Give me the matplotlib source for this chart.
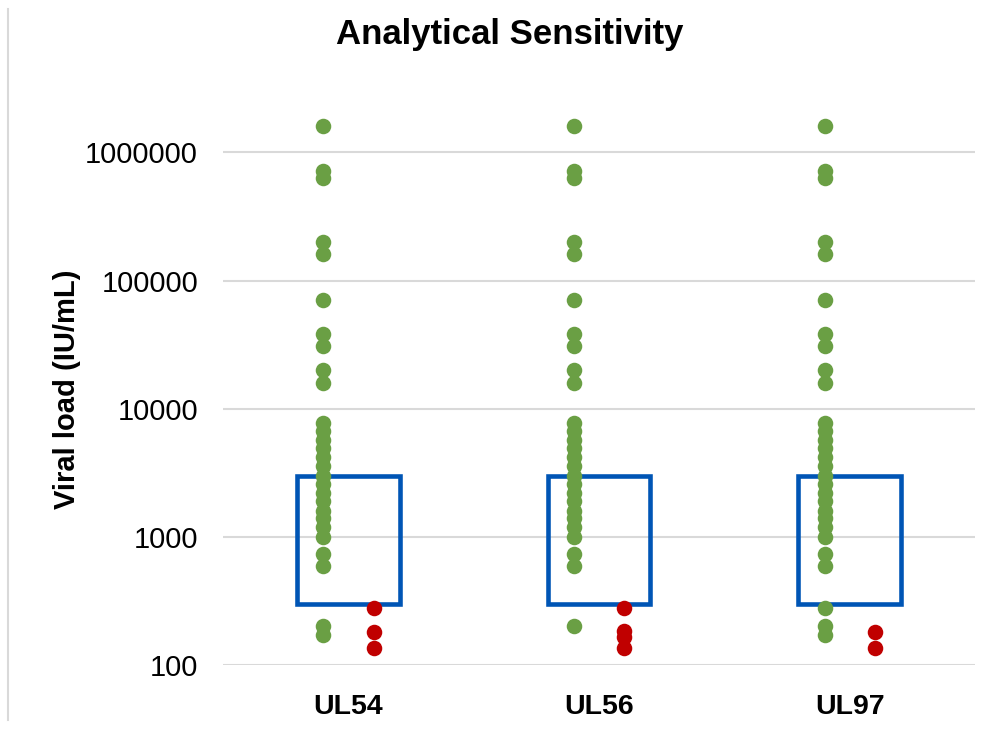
import matplotlib

matplotlib.use("Agg")
import matplotlib.pyplot as plt
from matplotlib.lines import Line2D
from matplotlib.patches import Rectangle
from matplotlib.ticker import FixedLocator, NullLocator

plt.rcParams["font.family"] = ["Liberation Sans", "DejaVu Sans"]

categories = ["UL54", "UL56", "UL97"]

# detected (green) samples per target, IU/mL
detected_common = [1600000, 720000, 630000, 200000, 160000, 71000, 38000, 31000,
                   20000, 16000, 7800, 6700, 5700, 4900, 4200, 3600, 3000, 2600,
                   2200, 1900, 1600, 1400, 1200, 1000, 740, 590, 200]
detected_extra = {"UL54": [170], "UL56": [], "UL97": [280, 170]}

# not detected (red) samples
missed = {"UL54": [280, 180, 135], "UL56": [280, 185, 165, 135], "UL97": [180, 135]}

# blue box range (IU/mL)
box_low = 300
box_high = 3000

GREEN = "#6A9F44"
RED = "#C00000"
BLUE = "#0055B5"
GRID = "#D9D9D9"

fig = plt.figure(figsize=(9.96, 7.29), dpi=100)
ax = fig.add_axes([0.224, 0.0878, 0.755, 0.756])

for i, cat in enumerate(categories, start=1):
    greens = detected_common + detected_extra[cat]
    ax.scatter([i - 0.1] * len(greens), greens, s=125, color=GREEN, zorder=3, linewidths=0)
    reds = missed[cat]
    ax.scatter([i + 0.1] * len(reds), reds, s=125, color=RED, zorder=3, linewidths=0)
    ax.add_patch(Rectangle((i - 0.205, box_low), 0.41, box_high - box_low,
                           fill=False, edgecolor=BLUE, linewidth=3.3, zorder=2))

ax.set_yscale("log")
ax.set_ylim(100, 2000000)
ax.set_xlim(0.5, 3.5)
ax.yaxis.set_major_locator(FixedLocator([100, 1000, 10000, 100000, 1000000]))
ax.yaxis.set_minor_locator(NullLocator())
ax.set_yticklabels(["100", "1000", "10000", "100000", "1000000"], fontsize=21)
ax.set_xticks([1, 2, 3])
ax.set_xticklabels(categories, fontsize=20.5, fontweight="bold")
ax.tick_params(axis="both", length=0)
ax.tick_params(axis="y", pad=18)
ax.tick_params(axis="x", pad=21)
ax.grid(axis="y", color=GRID, linewidth=1.5, zorder=0)
ax.set_axisbelow(True)
for sp in ax.spines.values():
    sp.set_visible(False)

ax.set_ylabel("Viral load (IU/mL)", fontsize=21, fontweight="bold", labelpad=3)
fig.text(0.512, 0.953, "Analytical Sensitivity", fontsize=25, fontweight="bold",
         ha="center", va="center")

# thin frame line on the left edge of the chart area
fig.add_artist(Line2D([0.008, 0.008], [0.012, 0.988], color=GRID, linewidth=1.5))

fig.savefig("out.png", dpi=100)
